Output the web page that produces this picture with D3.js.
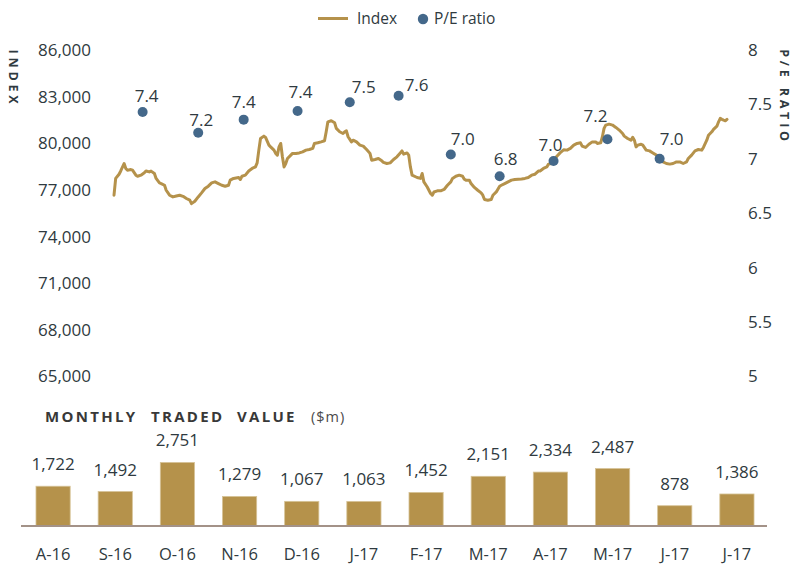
<!DOCTYPE html>
<html>
<head>
<meta charset="utf-8">
<script src="https://cdn.jsdelivr.net/npm/d3@7"></script>
<style>
  html, body { margin:0; padding:0; background:#fff; }
  svg { display:block; font-family:"Open Sans", sans-serif; }
</style>
</head>
<body>
<svg id="chart" width="792" height="565"></svg>
<script>
// ---- datos ----
// indice diario: [dias desde 1-ago-2016, valor]
const indexSeries = [
  [0,76660],[1,77740],[3,78010],[4,78220],[6,78700],[7,78380],[8,78270],[10,78310],[11,78270],[13,77950],
  [14,77880],[16,77950],[18,78100],[19,78220],[21,78160],[22,78210],[24,78060],[25,77740],[27,77450],[28,77410],
  [30,77300],[31,76980],[33,76660],[35,76550],[37,76610],[39,76660],[41,76590],[43,76450],[45,76340],[46,76120],
  [48,76270],[50,76550],[52,76810],[54,77090],[56,77240],[58,77450],[60,77520],[62,77410],[64,77300],[66,77240],
  [68,77300],[69,77630],[71,77740],[74,77800],[75,77670],[76,77880],[78,77950],[80,78220],[82,78380],[84,78480],
  [85,78740],[86,79560],[87,80310],[89,80460],[90,80380],[92,79880],[93,79770],[95,79560],[96,79350],[97,79240],
  [98,79770],[99,79990],[100,79130],[101,78480],[102,78700],[103,79020],[105,79240],[106,79350],[108,79350],[110,79380],
  [112,79450],[114,79560],[116,79600],[118,79670],[119,79990],[121,80030],[123,80090],[125,80160],[126,80740],[127,81380],
  [129,81450],[131,81320],[132,80960],[134,80740],[136,80630],[137,80740],[138,80800],[139,80420],[141,80090],[142,80200],
  [144,80090],[146,79880],[148,79820],[150,79600],[152,79350],[153,78910],[155,78960],[157,79020],[159,78870],[160,78770],
  [162,78700],[164,78740],[166,78960],[168,79130],[170,79380],[171,79510],[172,79300],[174,79380],[175,79240],[176,78480],
  [177,77950],[180,77800],[182,77740],[183,78060],[184,77520],[186,77190],[188,76770],[189,76660],[190,76870],[192,76940],
  [194,76940],[196,77030],[198,77300],[200,77520],[201,77740],[203,77880],[205,77950],[207,77880],[208,77690],[209,77630],
  [211,77630],[212,77410],[214,77160],[216,76980],[218,76810],[219,76660],[220,76380],[222,76340],[224,76380],[225,76660],
  [227,76870],[229,77240],[230,77300],[232,77410],[234,77520],[236,77630],[238,77670],[240,77690],[242,77710],[244,77740],
  [246,77800],[248,77950],[250,78010],[252,78210],[253,78220],[255,78380],[257,78480],[258,78660],[260,78700],[261,78910],
  [263,79170],[265,79400],[267,79580],[269,79560],[271,79670],[273,79880],[275,79990],[277,80030],[278,79820],[280,79730],
  [282,79940],[284,80090],[286,80090],[287,79990],[289,80030],[290,80420],[291,80960],[292,81170],[294,81230],[296,81170],
  [298,81020],[300,80850],[302,80630],[303,80460],[305,80310],[307,80200],[308,80380],[309,80200],[310,79770],[311,79880],
  [313,79940],[314,79880],[316,79560],[318,79510],[320,79380],[322,79240],[324,79020],[326,78800],[328,78700],[330,78660],
  [332,78700],[334,78800],[336,78800],[338,78700],[340,78800],[341,79020],[343,79240],[345,79510],[347,79600],[349,79560],
  [350,79730],[352,80200],[353,80520],[355,80740],[356,80890],[358,81100],[359,81380],[360,81600],[361,81540],[362,81490],
  [363,81450],[364,81540]
];

// P/E mensual
const peDays = [17, 50, 77, 109, 140, 169, 200, 229, 261, 293, 324];
const peValues = [7.43, 7.24, 7.36, 7.44, 7.52, 7.58, 7.04, 6.84, 6.98, 7.18, 7.00];

// valor negociado mensual ($m)
const months = ["A-16","S-16","O-16","N-16","D-16","J-17","F-17","M-17","A-17","M-17","J-17","J-17"];
const tradedValue = [1722, 1492, 2751, 1279, 1067, 1063, 1452, 2151, 2334, 2487, 878, 1386];

const leftTicks = [65000, 68000, 71000, 74000, 77000, 80000, 83000, 86000];
const rightTicks = [5, 5.5, 6, 6.5, 7, 7.5, 8];

// ---- estilos ----
const textColor = "#2f3a40";
const gold = "#b5924b";
const blue = "#44688a";

const svg = d3.select("#chart");

// ---- escalas ----
const startDate = new Date(2016, 7, 1);
const dayToDate = d => d3.timeDay.offset(startDate, d);

const x = d3.scaleTime()
  .domain([startDate, dayToDate(364)])
  .range([114, 727]);

const yLeft = d3.scaleLinear().domain([65000, 86000]).range([376.5, 50]);
const yRight = d3.scaleLinear().domain([5, 8]).range([376.5, 50]);

// ---- ejes superiores ----
const leftAxis = svg.append("g")
  .attr("transform", "translate(91,0)")
  .call(d3.axisLeft(yLeft).tickValues(leftTicks).tickFormat(d3.format(",")).tickSize(0).tickPadding(0));

const rightAxis = svg.append("g")
  .attr("transform", "translate(748,0)")
  .call(d3.axisRight(yRight).tickValues(rightTicks).tickFormat(d3.format("~g")).tickSize(0).tickPadding(0));

[leftAxis, rightAxis].forEach(a => {
  a.select(".domain").remove();
  a.selectAll("text")
    .attr("font-family", "'Open Sans', sans-serif")
    .attr("font-size", 17)
    .attr("fill", textColor);
});

// titulos verticales
svg.append("text")
  .attr("transform", "translate(13,78.5) rotate(90)")
  .attr("text-anchor", "middle")
  .attr("dy", "0.35em")
  .attr("font-size", 12.5)
  .attr("font-weight", "bold")
  .attr("letter-spacing", 3.8)
  .attr("fill", textColor)
  .text("INDEX");

svg.append("text")
  .attr("transform", "translate(784.5,97) rotate(90)")
  .attr("text-anchor", "middle")
  .attr("dy", "0.35em")
  .attr("font-size", 12.5)
  .attr("font-weight", "bold")
  .attr("letter-spacing", 3.8)
  .attr("fill", textColor)
  .text("P/E RATIO");

// ---- linea del indice ----
const line = d3.line()
  .x(d => x(dayToDate(d[0])))
  .y(d => yLeft(d[1]));

svg.append("path")
  .datum(indexSeries)
  .attr("fill", "none")
  .attr("stroke", gold)
  .attr("stroke-width", 3)
  .attr("stroke-linejoin", "round")
  .attr("stroke-linecap", "round")
  .attr("d", line);

// ---- puntos P/E ----
const pe = peDays.map((d, i) => ({date: dayToDate(d), value: peValues[i]}));
// ajuste manual de etiquetas (como en el original)
const peLabelNudge = [[4,-10],[3,-7],[0,-12],[3,-13],[14,-9],[18,-5],[12,-9],[6,-11],[-3,-10],[-12,-17],[12,-14]];

svg.selectAll("circle.pe")
  .data(pe)
  .join("circle")
  .attr("class", "pe")
  .attr("cx", d => x(d.date))
  .attr("cy", d => yRight(d.value))
  .attr("r", 5)
  .attr("fill", blue);

svg.selectAll("text.pe-label")
  .data(pe)
  .join("text")
  .attr("class", "pe-label")
  .attr("x", (d, i) => x(d.date) + peLabelNudge[i][0])
  .attr("y", (d, i) => yRight(d.value) + peLabelNudge[i][1])
  .attr("text-anchor", "middle")
  .attr("font-size", 17)
  .attr("fill", textColor)
  .text(d => d3.format(".1f")(d.value));

// ---- leyenda ----
const legend = svg.append("g");
legend.append("line")
  .attr("x1", 318).attr("x2", 348).attr("y1", 18.5).attr("y2", 18.5)
  .attr("stroke", gold).attr("stroke-width", 3);
legend.append("text")
  .attr("x", 357).attr("y", 24)
  .attr("font-size", 15.5).attr("fill", textColor)
  .text("Index");
legend.append("circle")
  .attr("cx", 423).attr("cy", 19).attr("r", 5.2)
  .attr("fill", blue);
legend.append("text")
  .attr("x", 434).attr("y", 24)
  .attr("font-size", 15.5).attr("fill", textColor)
  .text("P/E ratio");

// ---- barras: valor negociado ----
const xb = d3.scaleBand()
  .domain(d3.range(months.length))
  .range([22, 768])
  .paddingInner(0.45)
  .paddingOuter(0.225);

const yBar = d3.scaleLinear().domain([0, 3000]).range([526, 456.7]);

const title = svg.append("text")
  .attr("y", 422)
  .attr("fill", "#383838");
[["MONTHLY", 45], ["TRADED", 151], ["VALUE", 237]].forEach(([w, px]) => {
  title.append("tspan")
    .attr("x", px)
    .attr("font-size", 15)
    .attr("font-weight", "bold")
    .attr("letter-spacing", 2.3)
    .text(w);
});
title.append("tspan")
  .attr("x", 311)
  .attr("font-size", 14.5)
  .attr("letter-spacing", 1)
  .attr("fill", "#4a4a4a")
  .text("($m)");

svg.selectAll("rect.bar")
  .data(tradedValue)
  .join("rect")
  .attr("class", "bar")
  .attr("x", (d, i) => xb(i))
  .attr("width", xb.bandwidth())
  .attr("y", d => yBar(d))
  .attr("height", d => yBar(0) - yBar(d))
  .attr("fill", gold)
  .attr("stroke", "#d6c397")
  .attr("stroke-width", 0.8);

svg.selectAll("text.bar-label")
  .data(tradedValue)
  .join("text")
  .attr("class", "bar-label")
  .attr("x", (d, i) => xb(i) + xb.bandwidth() / 2)
  .attr("y", d => yBar(d) - 16)
  .attr("text-anchor", "middle")
  .attr("font-size", 17)
  .attr("fill", textColor)
  .text(d => d3.format(",")(d));

// linea base
svg.append("line")
  .attr("x1", 21).attr("x2", 767)
  .attr("y1", 526).attr("y2", 526)
  .attr("stroke", "#a39288")
  .attr("stroke-width", 2);

const bottomAxis = svg.append("g")
  .attr("transform", "translate(0,526)")
  .call(d3.axisBottom(xb).tickFormat(i => months[i]).tickSize(0).tickPadding(22));
bottomAxis.select(".domain").remove();
bottomAxis.selectAll("text")
  .attr("font-family", "'Open Sans', sans-serif")
  .attr("font-size", 16.5)
  .attr("fill", textColor);
</script>
</body>
</html>
